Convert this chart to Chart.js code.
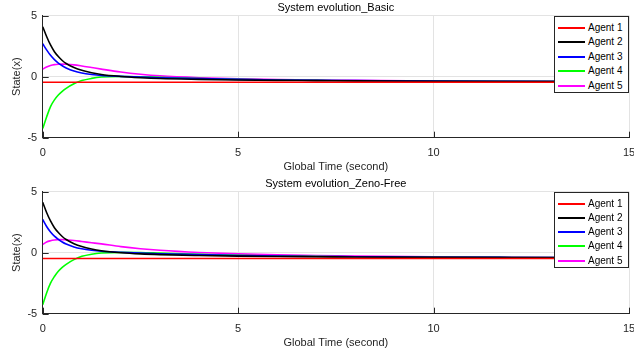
<!DOCTYPE html>
<html>
<head>
<meta charset="utf-8">
<script src="https://cdn.jsdelivr.net/npm/chart.js@4.4.1/dist/chart.umd.min.js"></script>
<style>
  html, body { margin: 0; padding: 0; background: #fff; }
  body { width: 634px; height: 358px; position: relative; overflow: hidden; font-family: "Liberation Sans", Arial, sans-serif; }
  .plot { position: absolute; left: 0; width: 634px; height: 175px; }
  .legend { position: absolute; left: 554px; width: 73px; background: #fff; border: 1px solid #262626; z-index: 2; }
  .legend .item { position: absolute; left: 0; height: 14px; width: 73px; }
  .legend .swatch { position: absolute; left: 3px; top: 6px; width: 27px; height: 2px; }
  .legend .label { position: absolute; left: 33px; top: 0; font-size: 10px; line-height: 14px; color: #000; white-space: nowrap; }
</style>
</head>
<body>
<div class="plot" style="top:0"><canvas id="basicChart" width="634" height="175"></canvas></div>
<div class="plot" style="top:176px"><canvas id="zenoChart" width="634" height="175"></canvas></div>
<div class="legend" id="legendBasic" style="top:16px;height:75px"></div>
<div class="legend" id="legendZeno" style="top:192px;height:74px"></div>
<script>
// === Dados ===
const agents = ['Agent 1', 'Agent 2', 'Agent 3', 'Agent 4', 'Agent 5'];
const agentColors = ['#ff0000', '#000000', '#0000ff', '#00ff00', '#ff00ff'];
const time = [0, 0.1, 0.2, 0.3, 0.4, 0.5, 0.6, 0.8, 1.0, 1.25, 1.5, 2, 2.5, 3, 4, 5, 6, 7, 8, 10, 12, 15];
const xTicks = [0, 5, 10, 15];
const yTicks = [-5, 0, 5];

// Basic
const basicAgent1 = [-0.45, -0.45, -0.45, -0.45, -0.45, -0.45, -0.45, -0.45, -0.45, -0.45, -0.45, -0.45, -0.45, -0.45, -0.45, -0.45, -0.45, -0.45, -0.45, -0.45, -0.45, -0.45];
const basicAgent2 = [4.1, 3.3, 2.6, 2.05, 1.65, 1.33, 1.08, 0.75, 0.52, 0.33, 0.18, 0.02, -0.08, -0.15, -0.22, -0.27, -0.3, -0.32, -0.34, -0.37, -0.39, -0.41];
const basicAgent3 = [2.7, 2.2, 1.75, 1.4, 1.12, 0.9, 0.72, 0.46, 0.3, 0.18, 0.1, 0.03, -0.03, -0.08, -0.16, -0.22, -0.27, -0.3, -0.32, -0.36, -0.38, -0.4];
const basicAgent4 = [-4.25, -3.3, -2.45, -1.9, -1.5, -1.2, -0.95, -0.58, -0.32, -0.14, -0.03, 0.02, 0.0, -0.05, -0.15, -0.22, -0.27, -0.3, -0.33, -0.36, -0.38, -0.4];
const basicAgent5 = [0.62, 0.8, 0.92, 0.99, 1.02, 1.03, 1.02, 0.97, 0.88, 0.75, 0.62, 0.38, 0.2, 0.07, -0.08, -0.17, -0.23, -0.27, -0.3, -0.35, -0.38, -0.4];

// Zeno-Free
const zenoAgent1 = [-0.47, -0.47, -0.47, -0.47, -0.47, -0.47, -0.47, -0.47, -0.47, -0.47, -0.47, -0.47, -0.47, -0.47, -0.47, -0.47, -0.47, -0.47, -0.47, -0.47, -0.47, -0.47];
const zenoAgent2 = [4.13, 3.3, 2.6, 2.05, 1.65, 1.33, 1.08, 0.74, 0.5, 0.3, 0.16, 0.0, -0.1, -0.16, -0.23, -0.28, -0.31, -0.33, -0.35, -0.38, -0.4, -0.42];
const zenoAgent3 = [2.72, 2.15, 1.7, 1.36, 1.1, 0.88, 0.71, 0.47, 0.32, 0.2, 0.12, 0.04, -0.03, -0.08, -0.16, -0.23, -0.28, -0.31, -0.33, -0.37, -0.39, -0.41];
const zenoAgent4 = [-4.27, -3.3, -2.5, -1.95, -1.52, -1.2, -0.95, -0.57, -0.3, -0.12, -0.02, 0.03, 0.02, -0.03, -0.13, -0.21, -0.27, -0.3, -0.33, -0.37, -0.39, -0.41];
const zenoAgent5 = [0.68, 0.88, 0.98, 1.04, 1.07, 1.07, 1.05, 1.0, 0.92, 0.82, 0.72, 0.5, 0.33, 0.2, 0.02, -0.1, -0.18, -0.24, -0.28, -0.34, -0.37, -0.4];

const FONT = '"Liberation Sans", Arial, sans-serif';
const TEXT = '#262626';
const GRID = '#e3e3e3';

// === Marcas de escala para dentro (estilo MATLAB) ===
const innerTicks = {
  id: 'innerTicks',
  afterDraw(chart) {
    const { ctx, chartArea: a, scales: { x, y } } = chart;
    ctx.save();
    ctx.strokeStyle = TEXT;
    ctx.lineWidth = 1;
    ctx.beginPath();
    xTicks.forEach(v => {
      const px = Math.round(x.getPixelForValue(v)) + 0.5;
      ctx.moveTo(px, a.bottom);
      ctx.lineTo(px, a.bottom - 6);
    });
    yTicks.forEach(v => {
      const py = Math.round(y.getPixelForValue(v)) + 0.5;
      ctx.moveTo(a.left, py);
      ctx.lineTo(a.left + 6, py);
    });
    ctx.stroke();
    ctx.restore();
  }
};

function buildChart(id, title, series) {
  return new Chart(document.getElementById(id), {
    type: 'line',
    data: {
      datasets: series.map((vals, i) => ({
        label: agents[i],
        data: time.map((t, k) => ({ x: t, y: vals[k] })),
        borderColor: agentColors[i],
        borderWidth: 1.6,
        pointRadius: 0,
        cubicInterpolationMode: 'monotone',
        fill: false
      }))
    },
    options: {
      responsive: false,
      animation: false,
      layout: { padding: { left: 0, right: 5, top: 0, bottom: 0 } },
      plugins: {
        legend: { display: false },
        tooltip: { enabled: false },
        title: {
          display: true,
          text: title,
          fullSize: false,
          color: '#000',
          font: { family: FONT, size: 11, weight: 'normal' },
          padding: { top: 1.5, bottom: 1 }
        }
      },
      scales: {
        x: {
          type: 'linear',
          min: 0,
          max: 15,
          // o rótulo "15" pode passar da borda, como no original
          afterFit: s => { s.height = 37.3; s.paddingLeft = 0; s.paddingRight = 0; },
          afterBuildTicks: s => { s.ticks = xTicks.map(v => ({ value: v })); },
          ticks: { color: TEXT, padding: 9, font: { family: FONT, size: 11 } },
          grid: { color: GRID, drawTicks: false, tickLength: 0 },
          border: { color: TEXT, width: 1 },
          title: {
            display: true,
            text: 'Global Time (second)',
            color: TEXT,
            font: { family: FONT, size: 11 },
            padding: { top: 0, bottom: 1.7 }
          }
        },
        y: {
          min: -5,
          max: 5,
          afterFit: s => { s.width = 42.7; s.paddingTop = 0; s.paddingBottom = 0; },
          afterBuildTicks: s => { s.ticks = yTicks.map(v => ({ value: v })); },
          ticks: { color: TEXT, padding: 5.5, font: { family: FONT, size: 11 } },
          grid: { color: GRID, drawTicks: false, tickLength: 0 },
          border: { color: TEXT, width: 1 },
          title: {
            display: true,
            text: 'State(x)',
            color: TEXT,
            font: { family: FONT, size: 11 },
            padding: { top: 10.4, bottom: 0 }
          }
        }
      }
    },
    plugins: [innerTicks]
  });
}

// === Legenda em HTML ===
function buildLegend(id, spacing) {
  const box = document.getElementById(id);
  agents.forEach((name, i) => {
    const item = document.createElement('div');
    item.className = 'item';
    item.style.top = (3.5 + i * spacing) + 'px';
    item.innerHTML = `<div class="swatch" style="background:${agentColors[i]}"></div><div class="label">${name}</div>`;
    box.appendChild(item);
  });
}

buildChart('basicChart', 'System evolution_Basic', [basicAgent1, basicAgent2, basicAgent3, basicAgent4, basicAgent5]);
buildChart('zenoChart', 'System evolution_Zeno-Free', [zenoAgent1, zenoAgent2, zenoAgent3, zenoAgent4, zenoAgent5]);
buildLegend('legendBasic', 14.5);
buildLegend('legendZeno', 14.3);
</script>
</body>
</html>
